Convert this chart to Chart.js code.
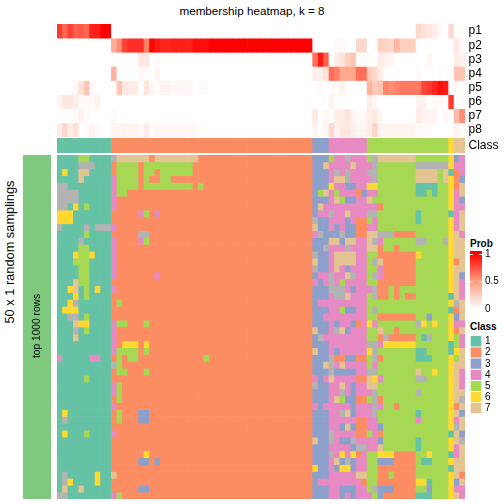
<!DOCTYPE html>
<html>
<head>
<meta charset="utf-8">
<script src="https://cdn.jsdelivr.net/npm/chart.js@4"></script>
<style>
html,body{margin:0;padding:0;background:#fff;width:504px;height:504px;overflow:hidden}
canvas{position:absolute;display:block}
.t{position:absolute;font-family:"Liberation Sans",Arial,sans-serif;color:#000;white-space:nowrap;line-height:1}
</style>
</head>
<body>
<div class="t" style="left:0;width:504px;top:5px;text-align:center;font-size:11.7px">membership heatmap, k = 8</div>
<div class="t" style="left:10px;top:252px;font-size:12.8px;transform:translate(-50%,-50%) rotate(-90deg)">50 x 1 random samplings</div>
<div class="t" style="left:470px;top:239px;font-size:10px;font-weight:bold">Prob</div>
<div class="t" style="left:470px;top:322px;font-size:10px;font-weight:bold">Class</div>
<script>
const probLabels = ["p1","p2","p3","p4","p5","p6","p7","p8"];
const classLabels = ["1","2","3","4","5","6","7"];
const classColors = {1:"#66C2A5",2:"#FC8D62",3:"#8DA0CB",4:"#E78AC3",5:"#A6D854",6:"#FFD92F",7:"#E5C494",8:"#B3B3B3"};
const probTicks = [0,0.5,1];
const sidebarColor = "#7FC97F";

const p1 = [.82,.68,.8,.7,.72,.68,.9,.9,1,1,
 0,0,0,0,0,0,0,0,0,0, 0,0,0,0,0,0,0,0,0,0, 0,0,0,0,0,0,0,0,0,0, 0,0,0,0,0,0,0,
 0,0,0, 0,0,0,0,0,0,0, 0,0,0,0,0,0,0,0,0,.2,.15,.13,.08,.03,0, .2, 0,0];
const p2 = [0,0,0,0,0,0,0,0,0,0,
 .42,.55,.8,.85,.85,.85,.6,.98,.92,.88, .88,.9,.9,.9,.9,.96,.96,.96,1,1, 1,1,1,1,1,1,1,1,1,1, 1,1,1,1,1,1,1,
 0,0,0, 0,.02,.02,0,0,.2,.2, 0,0,.25,.22,.2,.38,.25,.25,.25,0,0,0,0,0,0, 0, .12,.02];
const p3 = [0,0,0,0,0,0,0,0,0,0,
 0,0,0,0,0,.12,.12,0,.02,0, 0,0,0,0,0,0,0,0,0,0, 0,0,0,0,0,0,0,0,0,0, 0,0,0,0,0,0,0,
 .65,.92,.7, 0,.1,.15,.25,.3,.02,.02, .02,0,.1,.07,.05,0,0,0,0,0,0,.05,0,0,0, 0, .1,.07];
const p4 = [0,0,0,0,0,0,0,0,0,0,
 .4,0,0,0,0,.03,.01,.01,.05,0, 0,0,0,0,0,0,0,0,0,0, 0,0,0,0,0,0,0,0,0,0, 0,0,0,0,0,0,0,
 .08,.08,.15, .65,.6,.45,.45,.45,.65,.65, .27,.2,.1,0,0,0,0,0,0,.02,0,0,0,.01,0, 0, .3,.3];
const p5 = [0,0,0,.03,.15,.3,.03,0,0,0,
 0,.3,.12,.1,.1,0,.14,.04,.02,.06, .06,.04,.04,.04,.04,0,.02,.02,0,0, 0,0,0,0,0,0,0,0,0,0, 0,0,0,0,0,0,0,
 0,.02,0, .03,.03,.07,0,0,0,0, .4,.27,.3,.58,.55,.58,.62,.62,.62,.62,.78,.82,.88,.96,.92, 0, .03,0];
const p6 = [.05,.12,.12,.08,.03,.03,.03,.06,0,0,
 0,0,0,0,0,0,0,0,0,0, 0,0,0,0,0,0,0,0,0,0, 0,0,0,0,0,0,0,0,0,0, 0,0,0,0,0,0,0,
 0,0,0, .06,0,0,0,0,0,0, .08,.05,0,0,0,0,0,0,0,.06,.06,0,.03,.03,0, .82, 0,0];
const p7 = [0,0,0,.03,.06,.03,0,0,0,0,
 .03,0,0,0,0,0,0,0,0,0, 0,0,0,0,0,0,0,0,0,0, 0,0,0,0,0,0,0,0,0,0, 0,0,0,0,0,0,0,
 .12,0,.05, 0,.1,.1,.15,.05,.03,.03, .08,.12,.05,0,0,0,0,0,0,.1,.06,.05,.05,0,.04, 0, .35,.55];
const p8 = [.1,.2,.1,.17,0,.03,.06,.03,0,0,
 .05,.05,.06,.06,.06,.03,.1,.02,.04,.04, .04,.04,.04,.04,.04,.04,.02,0,0,0, 0,0,0,0,0,0,0,0,0,0, 0,0,0,0,0,0,0,
 .06,0,.05, .2,.07,.13,.13,.08,.05,.05, .1,.22,.06,.06,.06,.06,.06,.06,.06,.02,.02,.03,0,0,0, 0, .07,.02];
const classRow = "1111111111 2222222222222222222222222222222222222 333 4444444 555555555555555 6 77";

const samplingRows = [
"1111551111 8 7777772777 7777722222 2222222222222222 333 5448444 587777777555555 6 34",
"1111888111 2 5555255555 5555222222 2222222222222222 337 4444744 485555555888888 6 44",
"1611771111 2 5555255255 5555222222 2222222222222222 333 4848444 885555555777757 1 24",
"1111711111 4 5555252255 2222222222 2222222222222222 333 4778444 485555555777757 6 23",
"8811111111 4 5555255555 5555252222 2222222222222222 333 6443344 665555555111155 6 27",
"8888111111 4 5522222222 2222222222 2222222222222222 357 4544423 445555555115155 6 47",
"8888111111 4 2222222222 2222222222 2222222222222222 333 4753344 755555555555555 6 43",
"8816151111 4 2222222222 2222222222 2222222222222222 374 4444444 442555555555555 6 44",
"6661111111 2 2222452422 2222222222 2222222222222222 344 8447444 885555555155555 1 47",
"6661111111 2 2222222222 2222222222 2222222222222222 833 4443422 545555555155555 6 47",
"8111181888 4 2222222222 2222222222 2222222222222222 733 4343322 445555555555555 6 47",
"1111151111 2 2222882222 2222222222 2222222222222222 483 3383322 778882222555555 6 74",
"1111811111 4 2222452222 2222222222 2222222222222222 333 7737744 784555555885558 6 77",
"1111551111 4 2222222222 2222222222 2222222222222222 338 4448444 772552555555555 6 77",
"1116556111 4 2222222222 2222222222 2222222222222222 833 4777744 552222222655555 6 77",
"1115551111 4 2222222222 2222222222 2222222222222222 733 4777744 587222222555555 6 27",
"1111551111 4 2222222222 2222222222 2222222222222222 833 4743444 554222222555555 6 77",
"1111551111 4 2222222422 2222222222 2222222222222222 344 8447844 584222222555555 6 73",
"1117551111 2 2222222222 2222222222 2222222222222222 434 8454444 552222222555555 6 74",
"1167151611 4 2222222222 2222222222 2222222222222222 333 8884344 482252555555555 6 74",
"1116151111 2 2222222222 2222222222 2222222222222222 333 4887444 582252522555555 1 74",
"1168111111 2 5222222222 2222222222 2222222222222222 344 4444444 555555555555555 6 87",
"1666111111 2 2222222222 2222222222 2222222222222222 333 4453344 585555555555555 1 27",
"1188151111 2 2222222222 2222222222 2222222222222222 334 4444444 552222222553555 6 37",
"1117661111 4 5522252222 2222222222 2222222222222222 333 4344324 645555555865655 6 44",
"1118151111 4 2222222222 2222222222 2222222222222222 733 4873444 557552555555555 6 27",
"1117111111 4 2222222222 2222222222 2222222222222222 384 4444444 552822222518555 6 54",
"1111111111 4 2666262222 2222222222 2222222222222222 333 4444444 884666666555555 1 54",
"1111111111 4 5555252222 2222222222 2222222222222222 733 4344444 685555555115555 1 67",
"4111114411 2 5255222222 2222225222 2222222222222222 333 8223322 582555555111555 6 57",
"1111111111 8 5222222222 2222222222 2222222222222222 337 8474444 545555555555555 6 77",
"1111111111 2 5522252222 2222222222 2222222222222222 333 8333344 885555555755655 6 74",
"1111151111 2 2222222222 2222222222 2222222222222222 434 7444422 764555555885555 6 74",
"1111111111 4 5222222222 2222222222 2222222222222222 833 4474344 775555555555555 6 74",
"1111111111 4 5222222222 2222222222 2222222222222222 333 4484344 485555555855555 6 77",
"1111111111 2 5222222222 2222222222 2222222222222222 333 4753322 582555555555555 6 78",
"1111111111 4 2222222222 2222222222 2222222222222222 434 4444344 484552555555555 6 27",
"1611111111 2 5222332222 2222222222 2222222222222222 333 4487344 485555555155555 6 73",
"1811111111 2 5222332222 2222222222 2222222222222222 333 4444422 445555555455555 6 47",
"1111111111 2 2222222222 2222222222 2222222222222222 333 4437322 443555555555555 6 87",
"1611151111 4 2222222222 2222222222 2222222222222222 333 8444422 542555555555555 1 73",
"1111111111 2 2222222222 2222222222 2222222222222222 733 8433844 443555555155555 6 78",
"1111111111 2 2222222222 2222222222 2222222222222222 333 4444388 447555555155555 6 47",
"1111111111 2 2222262222 2222222222 2222222222222222 333 8464624 556662222556555 1 47",
"1111111111 2 2222332322 2222222222 2222222222222222 333 4738344 553332222511555 6 77",
"1111111111 2 2222222222 2222222222 2222222222222222 633 4366344 552222222555555 1 77",
"1811111611 7 2222222222 2222222222 2222222222222222 333 4444477 552252222555555 6 72",
"1861111611 2 2222222222 2222222222 2222222222222222 344 4444442 552222222661555 6 37",
"1711711111 2 2222332222 2222222222 2222222222222222 333 4433344 583332222553555 6 44",
"8811111111 4 5222222222 2222222222 2222222222222222 333 4434344 453222222111555 6 74"
];

const RAMP = [[0,[255,255,255]],[.5,[255,158,129]],[1,[255,0,0]]];
function probColor(v){
  for(let i=1;i<RAMP.length;i++){
    if(v<=RAMP[i][0]){
      const a=RAMP[i-1],b=RAMP[i],t=(v-a[0])/(b[0]-a[0]);
      return "rgb("+a[1].map((c,k)=>Math.round(c+(b[1][k]-c)*t)).join(",")+")";
    }
  }
  return "rgb(255,0,0)";
}
const classCells = s => [...s.replace(/ /g,"")].map(c=>classColors[c]);
const noPad = s => {s.paddingTop=0;s.paddingBottom=0;s.paddingLeft=0;s.paddingRight=0;};

function heat(box, cells, labels, extra){
  extra = extra || {};
  const cv = document.createElement("canvas");
  const right = extra.right || 0;
  cv.width = box.w + right; cv.height = box.h;
  cv.style.left = box.x+"px"; cv.style.top = box.y+"px";
  cv.style.width = (box.w+right)+"px"; cv.style.height = box.h+"px";
  document.body.appendChild(cv);
  const nRows = cells.length;
  const cols = cells[0].map((_,i)=>String(i+1));
  return new Chart(cv,{
    type:"bar",
    data:{labels:cols,datasets:cells.map((row,r)=>({
      label:"row"+(r+1),
      data:row.map(()=>1),
      backgroundColor:row,
      borderWidth:extra.border||0,
      borderColor:"#fff",
      categoryPercentage:1,barPercentage:1
    }))},
    options:{
      responsive:false,animation:false,
      layout:{padding:0},
      plugins:{legend:{display:false},tooltip:{enabled:false},title:{display:false}},
      scales:{
        x:{type:"category",display:false,stacked:true,offset:true,grid:{display:false}},
        y:{
          type:"linear",position:"right",stacked:true,reverse:true,min:0,max:nRows,
          display:!!labels,
          grid:{display:false,drawTicks:false},border:{display:false},
          afterBuildTicks:s=>{ if(labels) s.ticks=labels.map((l,i)=>({value:i+.5,label:l})); },
          afterFit:s=>{s.width=right;noPad(s);},
          ticks:{autoSkip:false,maxRotation:0,padding:extra.pad||3,color:"#000",
            font:{family:'"Liberation Sans",Arial,sans-serif',size:extra.size||12},
            callback:function(v,i){return labels?labels[i]:"";}}
        }
      }
    }
  });
}

const PLOT_X=57, PLOT_W=408;
heat({x:PLOT_X,y:24,w:PLOT_W,h:113},[p1,p2,p3,p4,p5,p6,p7,p8].map(r=>r.map(probColor)),probLabels,{right:39,pad:3.5});
heat({x:PLOT_X,y:138,w:PLOT_W,h:15},[classCells(classRow)],["Class"],{right:39,pad:3.5});
heat({x:PLOT_X,y:155,w:PLOT_W,h:344},samplingRows.map(classCells),null);
heat({x:23,y:155,w:28,h:344},[[sidebarColor]],null);
heat({x:470,y:336,w:12,h:78},classLabels.map(c=>[classColors[c]]),classLabels,{right:22,pad:3,size:10,border:1});

/* colour bar */
(function(){
  const cv=document.createElement("canvas");
  cv.width=34;cv.height=66;cv.style.left="470px";cv.style.top="247px";
  cv.style.width="34px";cv.style.height="66px";
  document.body.appendChild(cv);
  const whiteTicks={id:"whiteTicks",afterDatasetsDraw(c){
    const y=c.scales.y,a=c.chartArea,g=c.ctx;
    g.save();g.strokeStyle="#fff";g.lineWidth=1;
    probTicks.forEach(v=>{const p=Math.round(y.getPixelForValue(v))+.5;
      g.beginPath();g.moveTo(a.left,p);g.lineTo(a.left+3,p);g.moveTo(a.right-3,p);g.lineTo(a.right,p);g.stroke();});
    g.restore();}};
  const chart=new Chart(cv,{
    type:"bar",
    data:{labels:["Prob"],datasets:[{data:[1.05],backgroundColor:"#f00",
      borderWidth:0,categoryPercentage:1,barPercentage:1}]},
    options:{responsive:false,animation:false,
      layout:{padding:{top:4,bottom:4}},
      plugins:{legend:{display:false},tooltip:{enabled:false}},
      scales:{
        x:{display:false,grid:{display:false}},
        y:{position:"right",min:0,max:1.05,grid:{display:false,drawTicks:false},border:{display:false},
          afterBuildTicks:s=>{s.ticks=probTicks.map(v=>({value:v}));},
          afterFit:s=>{s.width=22;noPad(s);},
          ticks:{padding:3,color:"#000",font:{family:'"Liberation Sans",Arial,sans-serif',size:10},
            callback:v=>String(v)}}
      }
    },
    plugins:[whiteTicks]
  });
  const y=chart.scales.y;
  const gr=chart.ctx.createLinearGradient(0,y.getPixelForValue(0),0,y.getPixelForValue(1));
  RAMP.forEach(s=>gr.addColorStop(s[0],probColor(s[0])));
  chart.data.datasets[0].backgroundColor=gr;
  chart.update();
})();
</script>
<div class="t" style="left:37px;top:326px;font-size:10.2px;transform:translate(-50%,-50%) rotate(-90deg);z-index:5">top 1000 rows</div>
</body>
</html>
